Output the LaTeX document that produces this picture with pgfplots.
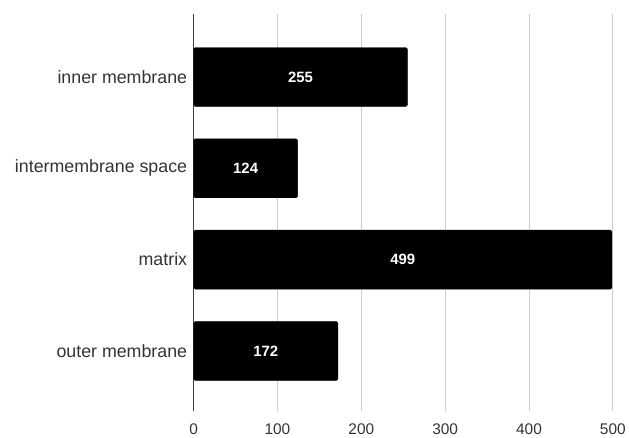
\documentclass[border=0pt]{standalone}
\usepackage{pgfplots}
\pgfplotsset{compat=1.18}
\usepackage{fontspec}
\setmainfont{Liberation Sans}
\definecolor{txt}{HTML}{333333}
\definecolor{gridc}{HTML}{CCCCCC}
\begin{document}
\begin{tikzpicture}
\begin{axis}[
  name=ax,
  xbar,
  scale only axis,
  width=420bp, height=398bp,
  xmin=0, xmax=500,
  ymin=-0.69, ymax=3.66,
  y dir=reverse,
  bar width=0.645,
  ytick={0,1,2,3},
  yticklabels={inner membrane,intermembrane space,matrix,outer membrane},
  xtick={100,200,300,400,500},
  extra x ticks={0},
  extra x tick style={grid style={draw=black!75, line width=0.9pt}},
  xmajorgrids,
  grid style={draw=gridc, line width=0.8pt},
  axis line style={draw=none},
  major tick length=0pt,
  tick label style={text=txt},
  yticklabel style={font=\fontsize{17.9}{20}\selectfont, xshift=-3bp},
  xticklabel style={font=\fontsize{15.5}{18}\selectfont, yshift=-9bp},
  /pgf/number format/assume math mode=true,
  point meta=x,
  nodes near coords,
  visualization depends on=x \as \rawx,
  every node near coord/.append style={anchor=center, text=white,
    font=\bfseries\fontsize{15}{17}\selectfont,
    shift={(axis direction cs:-\rawx/2,0)}},
]
\addplot[fill=black, draw=black, rounded corners=1.5pt]
  coordinates {(255,0) (124,1) (499,2) (172,3)};
\end{axis}
\path (ax.south west) ++(-194bp,-25bp) rectangle ++(629bp,437bp);
\end{tikzpicture}
\end{document}
